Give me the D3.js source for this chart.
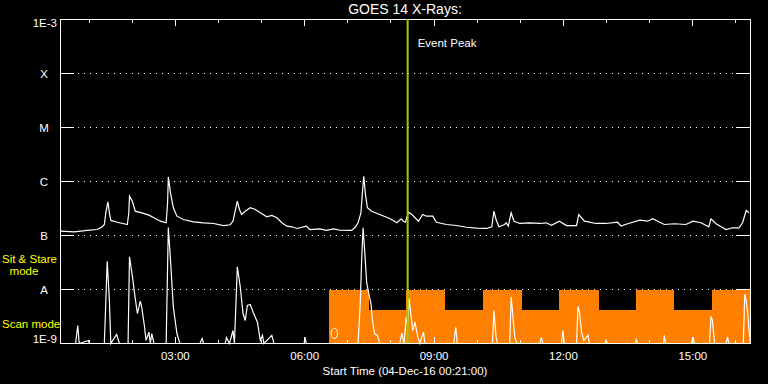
<!DOCTYPE html>
<html>
<head>
<meta charset="utf-8">
<script src="https://cdn.jsdelivr.net/npm/d3@7"></script>
<style>
  html, body { margin: 0; padding: 0; background: #000; }
  svg { display: block; }
  text { font-family: "Liberation Sans", Arial, sans-serif; fill: #fff; }
</style>
</head>
<body>
<svg id="chart" width="768" height="384"></svg>
<script>
const parseTime = d3.timeParse("%H:%M");

const startTime = "00:21";
const endTime = "16:21";
const peakTime = "08:24";

const yTicks = [1e-3, 1e-4, 1e-5, 1e-6, 1e-7, 1e-8, 1e-9];
const yTickLabels = ["1E-3", "X", "M", "C", "B", "A", "1E-9"];

// long channel (1-8 A), W/m^2
const longChannel = [
  ["00:21", 1.20e-7], ["00:40", 1.17e-7], ["00:58", 1.24e-7], ["01:12", 1.29e-7], ["01:19", 1.45e-7],
  ["01:22", 1.60e-7], ["01:24", 2.63e-7], ["01:27", 4.21e-7], ["01:29", 2.63e-7], ["01:31", 1.90e-7],
  ["01:40", 1.76e-7], ["01:54", 1.60e-7], ["01:56", 2.63e-7], ["01:57", 5.34e-7], ["02:01", 4.31e-7],
  ["02:05", 2.82e-7], ["02:14", 2.63e-7], ["02:24", 2.38e-7], ["02:31", 2.13e-7], ["02:40", 1.84e-7],
  ["02:48", 1.72e-7], ["02:50", 4.03e-7], ["02:51", 1.22e-6], ["02:54", 6.17e-7], ["02:58", 3.26e-7],
  ["03:03", 2.28e-7], ["03:12", 1.98e-7], ["03:26", 1.79e-7], ["03:40", 1.72e-7], ["03:54", 1.67e-7],
  ["04:08", 1.53e-7], ["04:17", 1.58e-7], ["04:21", 1.84e-7], ["04:24", 2.82e-7], ["04:27", 4.31e-7],
  ["04:30", 3.03e-7], ["04:33", 2.45e-7], ["04:38", 2.82e-7], ["04:45", 3.26e-7], ["04:52", 3.03e-7],
  ["04:59", 2.63e-7], ["05:08", 2.22e-7], ["05:15", 2.35e-7], ["05:22", 2.13e-7], ["05:29", 1.72e-7],
  ["05:36", 1.49e-7], ["05:43", 1.45e-7], ["05:50", 1.35e-7], ["06:03", 1.49e-7], ["06:08", 1.29e-7],
  ["06:22", 1.33e-7], ["06:31", 1.25e-7], ["06:41", 1.33e-7], ["06:50", 1.25e-7], ["07:06", 1.24e-7],
  ["07:11", 1.42e-7], ["07:15", 1.72e-7], ["07:19", 2.63e-7], ["07:21", 6.17e-7], ["07:23", 1.25e-6],
  ["07:25", 6.17e-7], ["07:28", 3.26e-7], ["07:34", 2.82e-7], ["07:45", 2.45e-7], ["07:59", 2.07e-7],
  ["08:09", 1.72e-7], ["08:15", 2.04e-7], ["08:18", 1.84e-7], ["08:21", 1.76e-7], ["08:25", 2.70e-7],
  ["08:30", 2.45e-7], ["08:39", 1.84e-7], ["08:45", 2.45e-7], ["08:50", 2.28e-7], ["08:59", 2.28e-7],
  ["09:04", 1.76e-7], ["09:18", 1.60e-7], ["09:32", 1.53e-7], ["09:46", 1.42e-7], ["10:00", 1.37e-7],
  ["10:14", 1.35e-7], ["10:21", 1.45e-7], ["10:24", 2.82e-7], ["10:27", 1.98e-7], ["10:31", 1.45e-7],
  ["10:39", 1.60e-7], ["10:41", 1.72e-7], ["10:44", 1.49e-7], ["10:48", 2.63e-7], ["10:52", 1.84e-7],
  ["11:00", 1.67e-7], ["11:14", 1.72e-7], ["11:28", 1.67e-7], ["11:37", 1.72e-7], ["11:44", 1.55e-7],
  ["11:55", 1.84e-7], ["12:05", 1.53e-7], ["12:19", 1.53e-7], ["12:22", 2.45e-7], ["12:30", 1.84e-7],
  ["12:46", 1.67e-7], ["13:00", 1.67e-7], ["13:16", 1.76e-7], ["13:21", 1.49e-7], ["13:30", 1.65e-7],
  ["13:47", 1.92e-7], ["13:58", 1.84e-7], ["14:05", 2.04e-7], ["14:12", 1.84e-7], ["14:21", 1.60e-7],
  ["14:35", 1.65e-7], ["14:51", 1.60e-7], ["15:01", 1.84e-7], ["15:12", 1.72e-7], ["15:23", 1.45e-7],
  ["15:26", 2.04e-7], ["15:33", 1.65e-7], ["15:47", 1.29e-7], ["15:56", 1.39e-7], ["16:05", 1.39e-7],
  ["16:10", 1.72e-7], ["16:15", 2.90e-7], ["16:19", 2.63e-7]
];

// short channel (0.5-4 A), W/m^2 (values under 1E-9 sit on the floor)
const shortChannel = [
  ["00:21", 1.0e-9], ["00:42", 1.0e-9], ["00:45", 2.15e-9], ["00:47", 1.0e-9], ["01:00", 1.14e-9],
  ["01:01", 1.0e-9], ["01:22", 1.0e-9], ["01:26", 3.34e-8], ["01:29", 6.25e-9], ["01:31", 1.0e-9],
  ["01:39", 1.47e-9], ["01:43", 1.0e-9], ["01:55", 1.0e-9], ["01:57", 4.03e-8], ["02:01", 1.76e-8],
  ["02:05", 6.81e-9], ["02:08", 3.59e-9], ["02:12", 6.07e-9], ["02:14", 4.70e-9], ["02:18", 2.00e-9],
  ["02:20", 1.14e-9], ["02:24", 1.62e-9], ["02:26", 1.0e-9], ["02:28", 1.53e-9], ["02:31", 1.0e-9],
  ["02:48", 1.0e-9], ["02:51", 1.40e-7], ["02:54", 3.59e-8], ["02:58", 4.70e-9], ["03:03", 1.53e-9],
  ["03:07", 1.0e-9], ["03:35", 1.0e-9], ["03:38", 1.24e-9], ["03:40", 1.0e-9], ["04:10", 1.0e-9],
  ["04:12", 1.29e-9], ["04:16", 1.0e-9], ["04:21", 1.74e-9], ["04:23", 1.0e-9], ["04:27", 2.63e-8],
  ["04:31", 1.15e-8], ["04:35", 3.55e-9], ["04:38", 2.67e-9], ["04:41", 5.05e-9], ["04:45", 5.27e-9],
  ["04:49", 3.80e-9], ["04:55", 2.48e-9], ["04:59", 1.14e-9], ["05:02", 1.41e-9], ["05:04", 1.0e-9],
  ["05:15", 1.41e-9], ["05:18", 1.0e-9], ["06:00", 1.0e-9], ["06:01", 1.31e-9], ["06:03", 1.0e-9],
  ["07:15", 1.0e-9], ["07:18", 5.44e-9], ["07:20", 3.59e-8], ["07:22", 1.39e-7], ["07:25", 3.59e-8],
  ["07:27", 1.33e-8], ["07:30", 8.32e-9], ["07:33", 5.44e-9], ["07:35", 2.67e-9], ["07:38", 1.51e-9],
  ["07:42", 1.41e-9], ["07:45", 1.0e-9], ["08:13", 1.0e-9], ["08:16", 1.55e-9], ["08:19", 1.0e-9],
  ["08:22", 3.07e-9], ["08:24", 2.15e-9], ["08:26", 6.72e-9], ["08:29", 3.07e-9], ["08:31", 1.74e-9],
  ["08:34", 2.48e-9], ["08:38", 1.35e-9], ["08:41", 1.0e-9], ["08:46", 1.62e-9], ["08:48", 1.0e-9],
  ["09:28", 1.0e-9], ["09:31", 2.00e-9], ["09:33", 1.0e-9], ["10:22", 1.0e-9], ["10:24", 4.08e-9],
  ["10:27", 1.31e-9], ["10:29", 1.0e-9], ["10:46", 1.0e-9], ["10:48", 7.21e-9], ["10:51", 2.67e-9],
  ["10:53", 1.31e-9], ["10:56", 1.0e-9], ["11:28", 1.0e-9], ["11:30", 1.31e-9], ["11:32", 1.0e-9],
  ["11:58", 1.0e-9], ["12:00", 1.74e-9], ["12:02", 1.0e-9], ["12:19", 1.0e-9], ["12:21", 4.84e-9],
  ["12:23", 3.80e-9], ["12:26", 1.62e-9], ["12:29", 1.14e-9], ["12:35", 1.41e-9], ["12:37", 1.0e-9],
  ["12:59", 1.0e-9], ["13:00", 1.14e-9], ["13:02", 1.0e-9], ["13:41", 1.0e-9], ["13:42", 1.19e-9],
  ["13:44", 1.0e-9], ["14:20", 1.0e-9], ["14:21", 1.41e-9], ["14:23", 1.0e-9], ["14:59", 1.0e-9],
  ["15:01", 1.31e-9], ["15:03", 1.0e-9], ["15:24", 1.0e-9], ["15:26", 3.16e-9], ["15:28", 2.67e-9],
  ["15:31", 1.0e-9], ["15:47", 1.0e-9], ["15:49", 1.31e-9], ["15:51", 1.0e-9], ["16:11", 1.0e-9],
  ["16:13", 8.09e-9], ["16:15", 6.25e-9], ["16:17", 3.80e-9], ["16:19", 1.74e-9], ["16:21", 1.0e-9]
];

// observing mode bands
const modeBreaks = ["06:35", "07:30", "08:22", "09:16", "10:09", "11:03", "11:54",
                    "12:50", "13:41", "14:35", "15:28", "16:22"];
const modeNames = ["stare", "scan", "stare", "scan", "stare", "scan", "stare",
                   "scan", "stare", "scan", "stare"];
const modeLevel = { stare: 1e-8, scan: 4.1e-9 };
const modeMarkers = [["06:42", 1.54e-9]];

const W = 768, H = 384;
const plotL = 60, plotR = 750, plotT = 19, plotB = 343;
const orange = "#ff8000";
const green = "#99cc00";

const svg = d3.select("#chart");
svg.append("rect").attr("width", W).attr("height", H).attr("fill", "#000");

const x = d3.scaleTime()
  .domain([parseTime(startTime), parseTime(endTime)])
  .range([plotL + 0.5, plotR + 0.5]);
const y = d3.scaleLog()
  .domain([1e-9, 1e-3])
  .range([plotB + 0.5, plotT + 0.5])
  .clamp(true);

// dotted grid at the class levels
svg.append("g")
  .selectAll("line")
  .data(yTicks.slice(1, -1))
  .join("line")
  .attr("x1", plotL).attr("x2", plotR)
  .attr("y1", d => y(d)).attr("y2", d => y(d))
  .attr("stroke", "#fff")
  .attr("stroke-dasharray", "1,5")
  .attr("shape-rendering", "crispEdges");

// mode bands
svg.append("g")
  .selectAll("rect")
  .data(modeNames)
  .join("rect")
  .attr("x", (d, i) => x(parseTime(modeBreaks[i])))
  .attr("width", (d, i) => x(parseTime(modeBreaks[i + 1])) - x(parseTime(modeBreaks[i])))
  .attr("y", d => y(modeLevel[d]))
  .attr("height", d => y(1e-9) - y(modeLevel[d]))
  .attr("fill", orange)
  .attr("shape-rendering", "crispEdges");

svg.append("g")
  .selectAll("ellipse")
  .data(modeMarkers)
  .join("ellipse")
  .attr("cx", d => x(parseTime(d[0])))
  .attr("cy", d => y(d[1]))
  .attr("rx", 3.2).attr("ry", 5.2)
  .attr("fill", "none")
  .attr("stroke", "#fff");

// curves
const line = d3.line()
  .x(d => x(parseTime(d[0])))
  .y(d => y(d[1]));

[longChannel, shortChannel].forEach(series => {
  svg.append("path")
    .datum(series)
    .attr("d", line)
    .attr("fill", "none")
    .attr("stroke", "#fff")
    .attr("stroke-width", 1.2);
});

// frame
svg.append("rect")
  .attr("x", plotL + 0.5).attr("y", plotT + 0.5)
  .attr("width", plotR - plotL).attr("height", plotB - plotT)
  .attr("fill", "none").attr("stroke", "#fff")
  .attr("shape-rendering", "crispEdges");

// y ticks, both sides
const yt = svg.append("g").attr("stroke", "#fff").attr("shape-rendering", "crispEdges");
yTicks.slice(1, -1).forEach(v => {
  yt.append("line").attr("x1", plotL).attr("x2", plotL + 14).attr("y1", y(v)).attr("y2", y(v));
  yt.append("line").attr("x1", plotR - 14).attr("x2", plotR).attr("y1", y(v)).attr("y2", y(v));
});

svg.append("g")
  .selectAll("text")
  .data(yTicks)
  .join("text")
  .attr("x", (d, i) => (i === 0 || i === yTicks.length - 1) ? 57 : 44)
  .attr("y", (d, i) => i === 0 ? plotT + 8 : (i === yTicks.length - 1 ? plotB : y(d) + 4))
  .attr("text-anchor", (d, i) => (i === 0 || i === yTicks.length - 1) ? "end" : "middle")
  .attr("font-size", 11.5)
  .text((d, i) => yTickLabels[i]);

// time axes (ticks point inward)
function timeTicks(g, axisFn, every, size, fmt, pad) {
  const ax = axisFn(x).ticks(d3.timeHour.every(every)).tickSize(size).tickPadding(pad);
  ax.tickFormat(fmt ? d3.timeFormat(fmt) : "");
  g.call(ax);
  g.select(".domain").remove();
  g.selectAll("line").attr("stroke", "#fff").attr("shape-rendering", "crispEdges");
  g.selectAll("text").attr("fill", "#fff").attr("font-size", 11.5)
    .attr("font-family", "Liberation Sans, Arial, sans-serif");
}
timeTicks(svg.append("g").attr("transform", `translate(0,${plotT})`), d3.axisTop, 1, -4, null, 0);
timeTicks(svg.append("g").attr("transform", `translate(0,${plotT})`), d3.axisTop, 3, -7, null, 0);
timeTicks(svg.append("g").attr("transform", `translate(0,${plotB + 0.5})`), d3.axisBottom, 1, -4, null, 0);
timeTicks(svg.append("g").attr("transform", `translate(0,${plotB + 0.5})`), d3.axisBottom, 3, -7, "%H:%M", 8);

// event peak
const px = x(parseTime(peakTime));
svg.append("line")
  .attr("x1", px).attr("x2", px)
  .attr("y1", plotT).attr("y2", plotB)
  .attr("stroke", green).attr("stroke-width", 2);
svg.append("text").attr("x", px + 10).attr("y", 47).attr("font-size", 11.5).text("Event Peak");

// titles
svg.append("text").attr("x", (plotL + plotR) / 2).attr("y", 14)
  .attr("text-anchor", "middle").attr("font-size", 14).text("GOES 14 X-Rays:");
svg.append("text").attr("x", (plotL + plotR) / 2).attr("y", 375)
  .attr("text-anchor", "middle").attr("font-size", 11.5).text("Start Time (04-Dec-16 00:21:00)");

// mode labels
const yl = svg.append("g").attr("font-size", 11.5);
yl.append("text").attr("x", 2).attr("y", 263).style("fill", "#ffff00").text("Sit & Stare");
yl.append("text").attr("x", 24).attr("y", 275).attr("text-anchor", "middle").style("fill", "#ffff00").text("mode");
yl.append("text").attr("x", 2).attr("y", 328).style("fill", "#ffff00").text("Scan mode");
</script>
</body>
</html>
